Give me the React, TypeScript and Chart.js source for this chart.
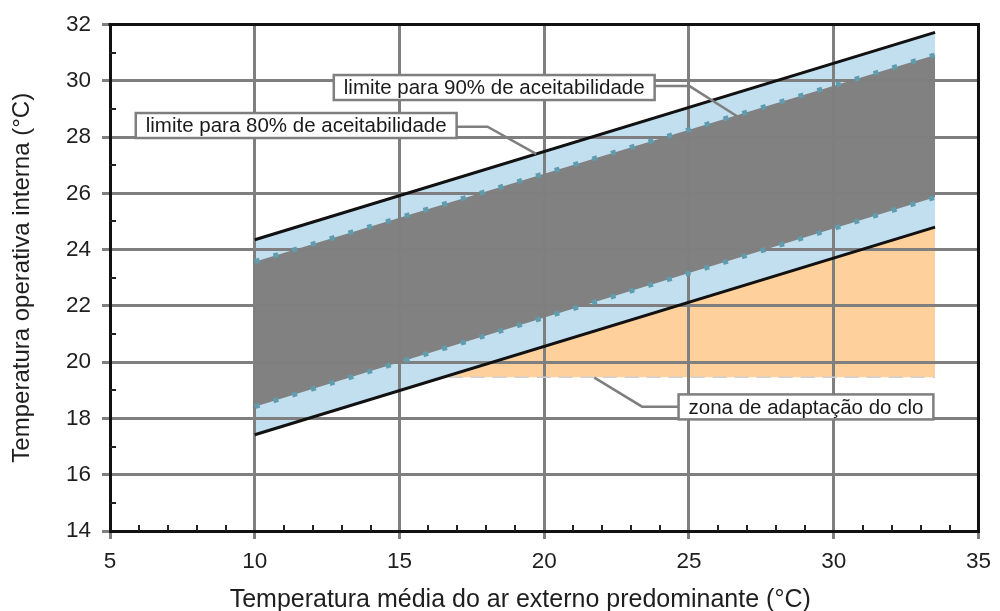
import React, { useEffect, useRef } from "react";
import { Chart, registerables } from "chart.js";

Chart.register(...registerables);

// ---- data ----
const lineX = [10, 33.5];
const upper80 = [24.35, 31.72];
const lower80 = [17.42, 24.8];
const upper90 = [23.57, 30.92];
const lower90 = [18.42, 25.86];
const cloX = [16.7, 33.5];
const cloTop = [19.46, 24.8];
const cloBase = [19.46, 19.46];

const xTicks = [5, 10, 15, 20, 25, 30, 35];
const yTicks = [14, 16, 18, 20, 22, 24, 26, 28, 30, 32];
const xMinorTicks = [6, 7, 8, 9, 11, 12, 13, 14, 16, 17, 18, 19, 21, 22, 23, 24, 26, 27, 28, 29, 31, 32, 33, 34];
const yMinorTicks = [15, 17, 19, 21, 23, 25, 27, 29, 31];

const xTitle = "Temperatura média do ar externo predominante (°C)";
const yTitle = "Temperatura operativa interna (°C)";

const labels90 = "limite para 90% de aceitabilidade";
const labels80 = "limite para 80% de aceitabilidade";
const labelClo = "zona de adaptação do clo";

const FONT = "'Liberation Sans', Arial, Helvetica, sans-serif";

type Ann = {
  text: string;
  x: number; // box left (data units)
  y: number; // box vertical centre (data units)
  side: "left" | "right";
  leader: [number, number][];
};

const annotations: Ann[] = [
  { text: labels90, x: 12.73, y: 29.76, side: "right", leader: [[25.02, 29.81], [26.77, 28.67]] },
  { text: labels80, x: 5.89, y: 28.41, side: "right", leader: [[18.04, 28.37], [19.72, 27.4]] },
  { text: labelClo, x: 24.64, y: 18.41, side: "left", leader: [[23.38, 18.42], [21.73, 19.45]] },
];

// centre of the x-axis title, in x data units
const xTitleCentre = 19.17;

const pts = (xs: number[], ys: number[]) => xs.map((x, i) => ({ x, y: ys[i] }));

const decorPlugin = {
  id: "decor",
  afterDraw(chart: any) {
    const { ctx, chartArea: a, scales } = chart;
    const x = scales.x;
    const y = scales.y;
    ctx.save();
    // minor ticks (inward)
    ctx.strokeStyle = "#222";
    ctx.lineWidth = 2;
    xMinorTicks.forEach((v) => {
      const px = Math.round(x.getPixelForValue(v));
      ctx.beginPath();
      ctx.moveTo(px, a.bottom);
      ctx.lineTo(px, a.bottom - 6);
      ctx.stroke();
    });
    yMinorTicks.forEach((v) => {
      const py = Math.round(y.getPixelForValue(v));
      ctx.beginPath();
      ctx.moveTo(a.left, py);
      ctx.lineTo(a.left + 6, py);
      ctx.stroke();
    });
    // frame top & right
    ctx.strokeStyle = "#111";
    ctx.lineWidth = 3;
    ctx.beginPath();
    ctx.moveTo(a.left - 1.5, a.top);
    ctx.lineTo(a.right, a.top);
    ctx.lineTo(a.right, a.bottom + 1.5);
    ctx.stroke();

    // x-axis title
    ctx.font = `25px ${FONT}`;
    ctx.fillStyle = "#1e1e1e";
    ctx.textAlign = "center";
    ctx.textBaseline = "alphabetic";
    ctx.fillText(xTitle, x.getPixelForValue(xTitleCentre), chart.height - 4);

    // annotations
    ctx.font = `20.5px ${FONT}`;
    const padX = 10;
    const h = 25;
    annotations.forEach((an) => {
      const w = ctx.measureText(an.text).width + padX * 2;
      const bx = x.getPixelForValue(an.x);
      const by = y.getPixelForValue(an.y) - h / 2;
      // leader
      ctx.strokeStyle = "#7f7f7f";
      ctx.lineWidth = 2.5;
      ctx.beginPath();
      const p0 = an.leader[0];
      const startX = an.side === "right" ? bx + w : bx;
      ctx.moveTo(startX, y.getPixelForValue(p0[1]));
      an.leader.forEach((p) => ctx.lineTo(x.getPixelForValue(p[0]), y.getPixelForValue(p[1])));
      ctx.stroke();
      // box
      ctx.fillStyle = "#ffffff";
      ctx.fillRect(bx, by, w, h);
      ctx.strokeRect(bx, by, w, h);
      ctx.fillStyle = "#1a1a1a";
      ctx.textBaseline = "middle";
      ctx.textAlign = "left";
      ctx.fillText(an.text, bx + padX, by + h / 2 + 1);
    });
    ctx.restore();
  },
};

export default function App() {
  const ref = useRef<HTMLCanvasElement | null>(null);

  useEffect(() => {
    document.body.style.margin = "0";
    document.body.style.background = "#ffffff";
    const canvas = ref.current;
    if (!canvas) return;

    const dotted = {
      borderColor: "#5f9cae",
      borderWidth: 5,
      borderDash: [5, 14.6],
      borderCapStyle: "butt" as const,
      pointRadius: 0,
    };
    const solid = {
      borderColor: "#111111",
      borderWidth: 3,
      pointRadius: 0,
    };

    const chart = new Chart(canvas, {
      type: "line",
      data: {
        datasets: [
          { label: "90% sup", data: pts(lineX, upper90), ...dotted, fill: 1, backgroundColor: "#818181" },
          { label: "90% inf", data: pts(lineX, lower90), ...dotted, fill: false },
          { label: "80% sup", data: pts(lineX, upper80), ...solid, fill: 3, backgroundColor: "#c2dff0" },
          { label: "80% inf", data: pts(lineX, lower80), ...solid, fill: false },
          {
            label: "clo",
            data: pts(cloX, cloTop),
            borderColor: "rgba(0,0,0,0)",
            borderWidth: 0,
            pointRadius: 0,
            fill: { value: cloBase[0] },
            backgroundColor: "#fdd09c",
          },
          {
            label: "clo base",
            data: pts(cloX, cloBase),
            borderColor: "#cfcfcf",
            borderWidth: 1.5,
            borderDash: [14, 8],
            pointRadius: 0,
            fill: false,
          },
        ] as any,
      },
      options: {
        animation: false,
        responsive: true,
        maintainAspectRatio: false,
        layout: { padding: { top: 23, right: 13, left: 0, bottom: 0 } },
        plugins: {
          legend: { display: false },
          tooltip: { enabled: false },
          filler: { propagate: false, drawTime: "beforeDraw" } as any,
        },
        elements: { line: { tension: 0 } },
        scales: {
          x: {
            type: "linear",
            min: 5,
            max: 35,
            afterBuildTicks: (s: any) => {
              s.ticks = xTicks.map((v) => ({ value: v }));
            },
            afterFit: (s: any) => {
              s.height = 80;
            },
            grid: { color: "#7f7f7f", lineWidth: 3, tickLength: 8, tickColor: "#7f7f7f", tickWidth: 3 },
            border: { color: "#111111", width: 3 },
            ticks: {
              font: { family: FONT, size: 22.5 },
              color: "#1e1e1e",
              padding: 9,
              maxRotation: 0,
              autoSkip: false,
            },
            title: { display: false, text: xTitle },
          },
          y: {
            type: "linear",
            min: 14,
            max: 32,
            afterBuildTicks: (s: any) => {
              s.ticks = yTicks.map((v) => ({ value: v }));
            },
            afterFit: (s: any) => {
              s.width = 110;
            },
            grid: { color: "#7f7f7f", lineWidth: 3, tickLength: 8, tickColor: "#7f7f7f", tickWidth: 3 },
            border: { color: "#111111", width: 3 },
            ticks: {
              font: { family: FONT, size: 22.5 },
              color: "#1e1e1e",
              padding: 11,
              autoSkip: false,
            },
            title: {
              display: true,
              text: yTitle,
              font: { family: FONT, size: 24 },
              color: "#1e1e1e",
              padding: { top: 8, bottom: 0 },
            },
          },
        },
      },
      plugins: [decorPlugin],
    });
    return () => chart.destroy();
  }, []);

  return (
    <div style={{ width: 1000, height: 611, position: "relative" }}>
      <canvas ref={ref} />
    </div>
  );
}
